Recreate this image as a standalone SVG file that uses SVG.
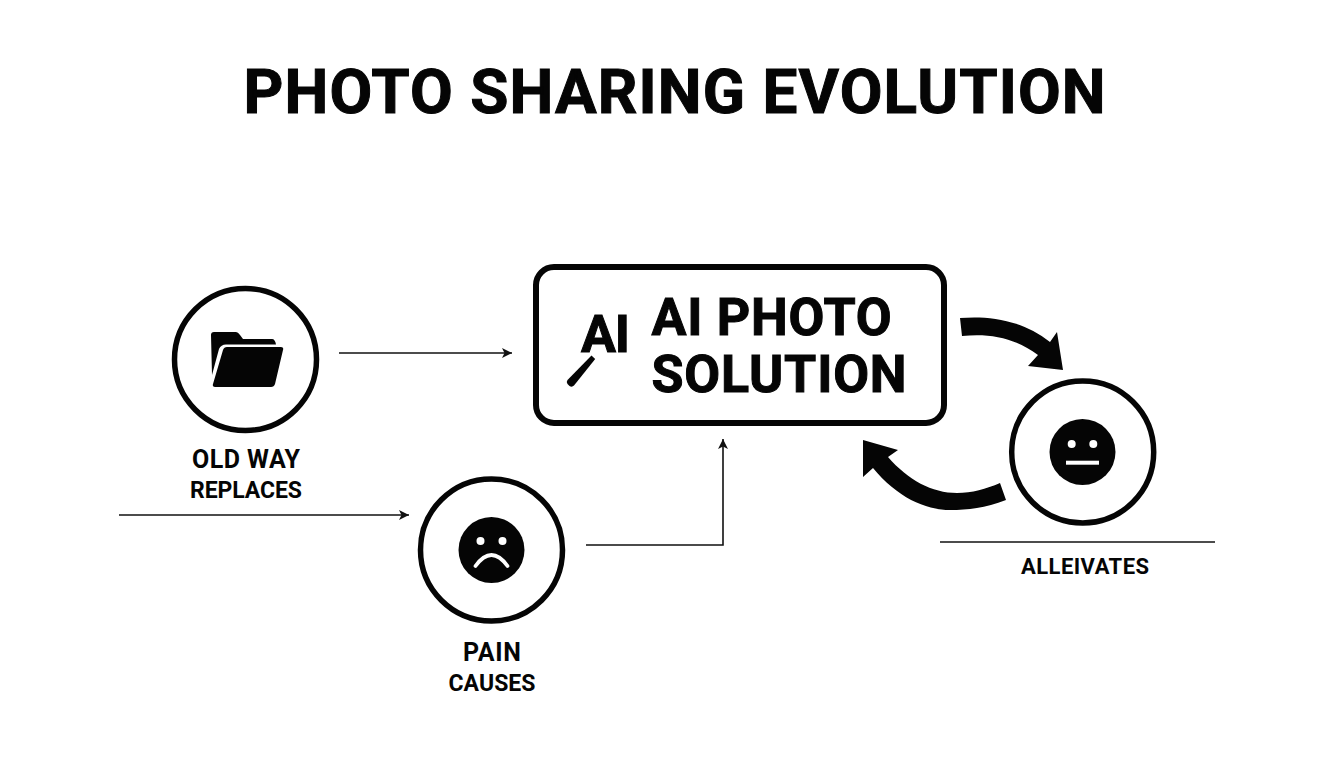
<svg xmlns="http://www.w3.org/2000/svg" width="1344" height="768" viewBox="0 0 1344 768">
<style>
text{font-family:Roboto,"Liberation Sans",sans-serif;font-weight:700;fill:#050505;text-anchor:middle}
.heavy{stroke:#050505;stroke-width:1;stroke-linejoin:miter}
.ring{fill:#fff;stroke:#050505;stroke-width:5.500}
.ink{fill:#050505}
.thin{fill:none;stroke:#111;stroke-width:1.6}
.lab{font-size:25px}
.sub{font-size:23px}
.big{font-size:52px}
</style>
<defs>
<marker id="tip" markerUnits="userSpaceOnUse" markerWidth="11" markerHeight="12" refX="10" refY="5" orient="auto"><path d="M0,0L10,5L0,10L2.5,5Z" fill="#111"/></marker>
</defs>
<rect width="1344" height="768" fill="#fff"/>
<text id="title" class="heavy" x="674.500" y="113" font-size="62" textLength="862">PHOTO SHARING EVOLUTION</text>
<g id="connectors">
<path class="thin" marker-end="url(#tip)" d="M339,353H512"/>
<path class="thin" marker-end="url(#tip)" d="M119,515H409"/>
<path class="thin" marker-end="url(#tip)" d="M586,545H723V439"/>
<path class="thin" d="M940,542H1215"/>
<path class="ink" d="M960,318C985,316 1020,318 1050,342L1057,332L1063,370L1028,366L1038,355C1015,338 990,333 962,336Z"/>
<path class="ink" d="M1006,500C985,508 968,510 950,510C925,510 897,497 873,468L863,477L863,440L898,450L888,457C908,480 932,493 957,493C972,493 986,489 1000,483Z"/>
</g>
<g id="old-way">
<circle class="ring" cx="245.500" cy="359.500" r="71"/>
<path class="ink" d="M211,335Q211,332 214,332H236Q238,332 240,335L243,339H272Q275,339 276,344.500H226Q221,344.500 219,349L212,375Z"/>
<path class="ink" d="M223,350Q224,347 227,347H281Q284,347 283,350L275,384Q274,387 271,387H215Q212,387 213,384Z"/>
<text class="lab" x="246" y="467.500" textLength="108">OLD WAY</text>
<text class="sub" x="246" y="497.500" textLength="112">REPLACES</text>
</g>
<g id="pain">
<circle class="ring" cx="491.500" cy="550" r="71"/>
<circle class="ink" cx="491.500" cy="550" r="33"/>
<circle cx="480.500" cy="541" r="4" fill="#fff"/>
<circle cx="502.500" cy="541" r="4" fill="#fff"/>
<path d="M475.500,566Q491.500,544 507.500,566" fill="none" stroke="#fff" stroke-width="3.800" stroke-linecap="round"/>
<text class="lab" x="492" y="660.500" textLength="58">PAIN</text>
<text class="sub" x="492" y="691" textLength="87">CAUSES</text>
</g>
<g id="ai-solution">
<rect x="536" y="267" width="408" height="156" rx="18" fill="#fff" stroke="#050505" stroke-width="6"/>
<text class="heavy" x="605.500" y="352" font-size="52" textLength="49">AI</text>
<path class="ink" d="M591.500,355.600L595.200,359L574,385.500Q572,387.500 569.500,386L567.500,384Q566,382 567.500,380Z"/>
<text class="big heavy" x="771.500" y="335" textLength="240">AI PHOTO</text>
<text class="big heavy" x="779" y="392" textLength="255">SOLUTION</text>
</g>
<g id="relief">
<circle class="ring" cx="1082.700" cy="452" r="71"/>
<circle class="ink" cx="1082.500" cy="452" r="33"/>
<circle cx="1071.700" cy="444" r="4" fill="#fff"/>
<circle cx="1093.300" cy="444" r="4" fill="#fff"/>
<rect x="1066" y="460.700" width="33" height="4" fill="#fff"/>
<text x="1085" y="574" font-size="22" textLength="128">ALLEIVATES</text>
</g>
</svg>
